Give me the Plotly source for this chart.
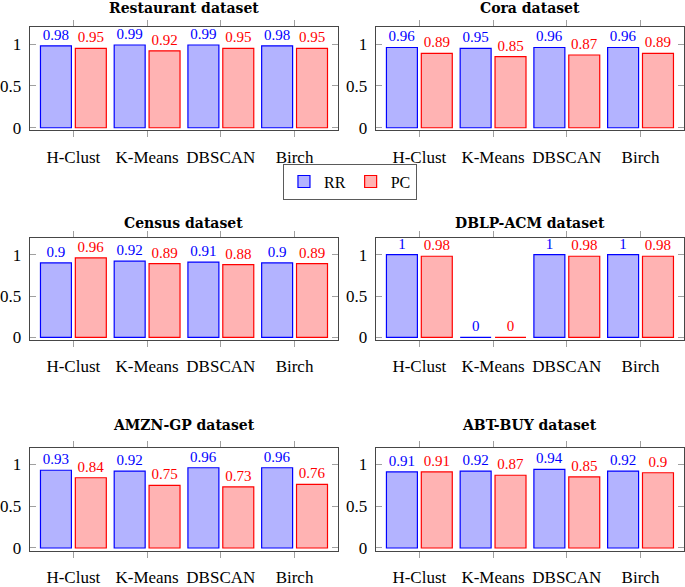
import plotly.graph_objects as go

categories = ["H-Clust", "K-Means", "DBSCAN", "Birch"]
titles = ["Restaurant dataset", "Cora dataset", "Census dataset",
          "DBLP-ACM dataset", "AMZN-GP dataset", "ABT-BUY dataset"]
rr_restaurant = [0.98, 0.99, 0.99, 0.98]
pc_restaurant = [0.95, 0.92, 0.95, 0.95]
rr_cora = [0.96, 0.95, 0.96, 0.96]
pc_cora = [0.89, 0.85, 0.87, 0.89]
rr_census = [0.9, 0.92, 0.91, 0.9]
pc_census = [0.96, 0.89, 0.88, 0.89]
rr_dblp = [1, 0, 1, 1]
pc_dblp = [0.98, 0, 0.98, 0.98]
rr_amzn = [0.93, 0.92, 0.96, 0.96]
pc_amzn = [0.84, 0.75, 0.73, 0.76]
rr_abt = [0.91, 0.92, 0.94, 0.92]
pc_abt = [0.91, 0.87, 0.85, 0.9]

rr_all = [rr_restaurant, rr_cora, rr_census, rr_dblp, rr_amzn, rr_abt]
pc_all = [pc_restaurant, pc_cora, pc_census, pc_dblp, pc_amzn, pc_abt]

W, H = 685, 587
col_px = [(26, 336), (374, 684)]
row_px = [(28, 133), (243, 347), (457, 562)]
title_y = [8, 228, 434]
xpos = list(range(len(categories)))

FONT = "Liberation Serif"
BLUE = "rgb(0,0,255)"
RED = "rgb(255,0,0)"
BLUE_F = "rgb(179,179,255)"
RED_F = "rgb(255,179,179)"

fig = go.Figure()
layout_axes = {}
annotations = []
for i in range(6):
    r, c = divmod(i, 2)
    n = i + 1
    xa = "x" if n == 1 else f"x{n}"
    ya = "y" if n == 1 else f"y{n}"
    for vals, name, fc, lc, off in [(rr_all[i], "RR", BLUE_F, BLUE, -0.446),
                                    (pc_all[i], "PC", RED_F, RED, 0.027)]:
        fig.add_trace(go.Bar(
            x=xpos, y=vals, name=name, xaxis=xa, yaxis=ya,
            width=0.42, offset=off,
            marker=dict(color=fc, line=dict(color=lc, width=1.2)),
            text=[f"{v:g}" for v in vals], textposition="outside",
            textfont=dict(family=FONT, size=15, color=lc),
            constraintext="none", cliponaxis=False,
            showlegend=(i == 0), hoverinfo="skip",
        ))
    x0, x1 = col_px[c]
    y0, y1 = row_px[r]
    layout_axes[f"xaxis{'' if n == 1 else n}"] = dict(
        domain=[x0 / W, x1 / W], anchor=ya, range=[-0.59, 3.59],
        tickvals=xpos, ticktext=categories, ticks="outside", ticklen=6,
        tickcolor="rgb(160,160,160)", showline=True, linecolor="rgb(70,70,70)",
        linewidth=1.2, mirror="ticks", showgrid=False, zeroline=False,
        tickfont=dict(family=FONT, size=17, color="black"), ticklabelstandoff=5,
        fixedrange=True,
    )
    layout_axes[f"yaxis{'' if n == 1 else n}"] = dict(
        domain=[1 - y1 / H, 1 - y0 / H], anchor=xa, range=[-0.03, 1.2],
        tickvals=[0, 0.5, 1], ticktext=["0", "0.5", "1"], ticks="inside",
        ticklen=6, tickcolor="rgb(160,160,160)", showline=True,
        linecolor="rgb(70,70,70)", linewidth=1.2, mirror="ticks",
        showgrid=False, zeroline=False,
        tickfont=dict(family=FONT, size=17, color="black"), ticklabelstandoff=4,
        fixedrange=True,
    )
    annotations.append(dict(
        text=f"<b>{titles[i]}</b>", x=(x0 + x1) / 2 / W, y=1 - title_y[r] / H,
        xref="paper", yref="paper", xanchor="center", yanchor="middle",
        showarrow=False, font=dict(family="DejaVu Serif", size=14, color="black"),
    ))

fig.update_layout(
    width=W, height=H, margin=dict(l=0, r=0, t=0, b=0),
    plot_bgcolor="white", paper_bgcolor="white", barmode="overlay",
    annotations=annotations,
    legend=dict(orientation="h", x=348 / W, y=1 - 167 / H, xanchor="center",
                yanchor="top", bordercolor="rgb(90,90,90)", borderwidth=1,
                font=dict(family=FONT, size=16, color="black"), itemwidth=30,
                tracegroupgap=0),
    **layout_axes,
)
fig.write_html("out.html", config={"displayModeBar": False},
               post_script="document.body.style.margin='0';")
